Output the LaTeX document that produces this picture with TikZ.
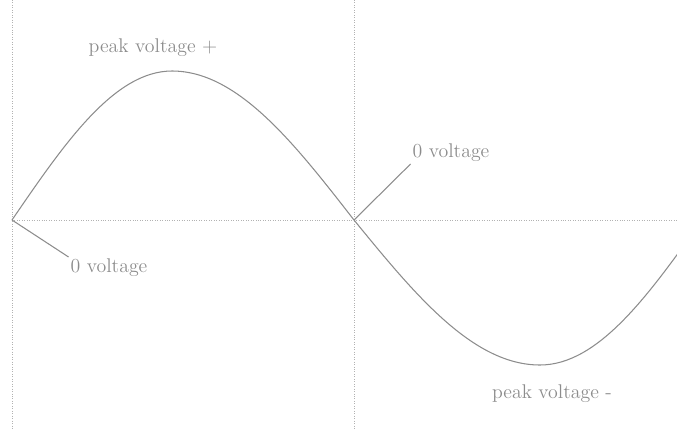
\documentclass[tikz,border=0pt]{standalone}
\usetikzlibrary{positioning}
\tikzset{
  guide/.style={densely dotted,gray!60},
  wave/.style={gray!90,line width=0.6pt},
  lbl/.style={text=gray!90,inner sep=1pt,font=\fontsize{11.3}{13}\selectfont}
}
\begin{document}
\begin{tikzpicture}[x=0.02cm,y=-0.02cm]
\useasboundingbox (0,0) rectangle (677,430);
\clip (0,0) rectangle (677,430);
\coordinate (start) at (12,220);
\coordinate (peak) at (172,71);
\coordinate (zero) at (354,220);
\coordinate (trough) at (540,365);
\coordinate (stop) at (702,220);
\coordinate (axisend) at (677,220);
\draw[guide] (12,0) -- (12,430);
\draw[guide] (354,0) -- (354,430);
\draw[guide] (start) -- (axisend);
\draw[wave] (start) sin (peak) cos (zero) sin (trough) cos (stop);
\node[lbl] (peakpos) at (153,48) {peak voltage +};
\node[lbl] (peakneg) at (552,394) {peak voltage -};
\node[lbl] (midzero) at (451,153) {0 voltage};
\node[lbl] (lowzero) at (109,268) {0 voltage};
\draw[wave] (zero) -- (midzero.south west);
\draw[wave] (start) -- (lowzero.north west);
\end{tikzpicture}
\end{document}
